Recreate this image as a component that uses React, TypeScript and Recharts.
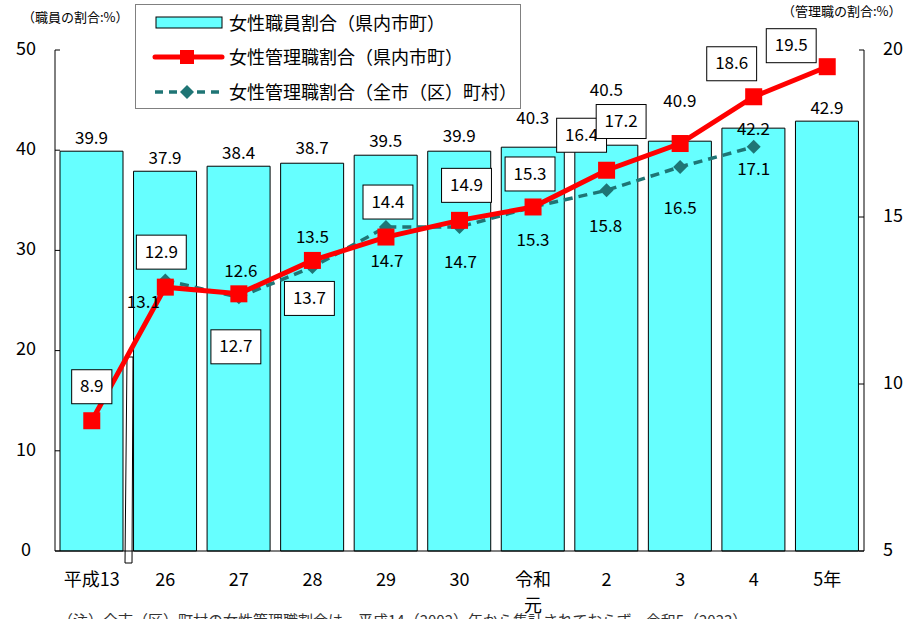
import React from "react";
import { ComposedChart, Bar, Line, XAxis, YAxis, LabelList, Customized } from "recharts";

const categories = ["平成13", "26", "27", "28", "29", "30", "令和\n元", "2", "3", "4", "5年"];
const staffRatio = [39.9, 37.9, 38.4, 38.7, 39.5, 39.9, 40.3, 40.5, 40.9, 42.2, 42.9];
const managerPref = [8.9, 12.9, 12.7, 13.7, 14.4, 14.9, 15.3, 16.4, 17.2, 18.6, 19.5];
const managerAll = [null, 13.1, 12.6, 13.5, 14.7, 14.7, 15.3, 15.8, 16.5, 17.1, null];
const leftTicks = [0, 10, 20, 30, 40, 50];
const rightTicks = [5, 10, 15, 20];

const FONT = '"Noto Sans CJK JP", "Noto Sans", sans-serif';
const TEAL = "#1f7575";

const data = categories.map((cat, i) => ({
  cat,
  staff: staffRatio[i],
  pref: managerPref[i],
  all: managerAll[i],
}));

// label nudges (px) so the numbers sit where the original puts them
const barLabelDy = [-12, -12, -12, -14, -13, -14, -28, -54, -39, 2, -12];
const prefBox = [
  [0, -34], [-4, -35], [-3, 53], [-3, 38], [2, -35], [7, -35],
  [-3, -33], [-25, -35], [-59, -22], [-22, -33], [-36, -21],
];
const allDy = [0, 23, -25, -29, 35, 36, 34, 37, 42, 24, 0];
const allDx = [0, -22, 2, 0, 1, 1, 0, -1, 0, 0, 0];

const numWidth = (s: string) =>
  s.split("").reduce((w, c) => w + (c === "." ? 4.8 : 9.7), 0);

const BarValue = (props: any) => {
  const { x, y, width, value, index } = props;
  return (
    <text x={x + width / 2} y={y + barLabelDy[index]} textAnchor="middle" dominantBaseline="middle"
      fontFamily={FONT} fontSize={17} fill="#000">
      {value}
    </text>
  );
};

const PrefValue = (props: any) => {
  const { x, y, value, index } = props;
  if (value == null) return null;
  const s = String(value);
  const w = numWidth(s) + 16;
  const h = 34;
  const cx = x + prefBox[index][0];
  const cy = y + prefBox[index][1];
  return (
    <g>
      <rect x={cx - w / 2} y={cy - h / 2} width={w} height={h} fill="#fff" stroke="#000" strokeWidth={1} />
      <text x={cx} y={cy + 1} textAnchor="middle" dominantBaseline="middle" fontFamily={FONT} fontSize={17} fill="#000">
        {s}
      </text>
    </g>
  );
};

const AllValue = (props: any) => {
  const { x, y, value, index } = props;
  if (value == null) return null;
  return (
    <text x={x + allDx[index]} y={y + allDy[index]} textAnchor="middle" dominantBaseline="middle"
      fontFamily={FONT} fontSize={17} fill="#000">
      {value}
    </text>
  );
};

const SquareDot = (props: any) => {
  const { cx, cy, index } = props;
  if (cx == null || cy == null) return <g key={index} />;
  return <rect key={index} x={cx - 8.5} y={cy - 8.5} width={17} height={17} fill="#ff0000" />;
};

const DiamondDot = (props: any) => {
  const { cx, cy, index } = props;
  if (cx == null || cy == null) return <g key={index} />;
  const r = 7;
  return <polygon key={index} points={`${cx},${cy - r} ${cx + r},${cy} ${cx},${cy + r} ${cx - r},${cy}`} fill={TEAL} />;
};

const LeftTick = (props: any) => {
  const { y, payload } = props;
  return (
    <text x={26} y={y} textAnchor="middle" dominantBaseline="middle" fontFamily={FONT} fontSize={18} fill="#000">
      {payload.value}
    </text>
  );
};

const RightTick = (props: any) => {
  const { y, payload } = props;
  return (
    <text x={883} y={y} textAnchor="start" dominantBaseline="middle" fontFamily={FONT} fontSize={18} fill="#000">
      {payload.value}
    </text>
  );
};

const XTick = (props: any) => {
  const { x, y, payload } = props;
  const lines = String(payload.value).split("\n");
  return (
    <text x={x} y={y} textAnchor="middle" fontFamily={FONT} fontSize={18} fill="#000">
      {lines.map((l, i) => (
        <tspan key={i} x={x} dy={i === 0 ? 27 : 26}>{l}</tspan>
      ))}
    </text>
  );
};

const BreakMark = () => (
  <polygon points="127,357 133,357 132,563 125,563" fill="#fff" stroke="#000" strokeWidth={1} />
);

const LegendBox = () => (
  <div style={{ position: "absolute", left: 135, top: 4, width: 384, height: 103, border: "1px solid #808080", background: "#fff" }}>
    <svg width={384} height={103} style={{ display: "block" }}>
      <rect x={20} y={12} width={66} height={11} fill="#66ffff" stroke="#000" strokeWidth={1} />
      <line x1={19} y1={52} x2={86} y2={52} stroke="#ff0000" strokeWidth={5} strokeLinecap="round" />
      <rect x={44} y={45} width={14} height={14} fill="#ff0000" />
      <line x1={19} y1={87} x2={86} y2={87} stroke={TEAL} strokeWidth={3.5} strokeDasharray="8 6" />
      <polygon points="51,80 58,87 51,94 44,87" fill={TEAL} />
      <g fontFamily={FONT} fontSize={18} fill="#000">
        <text x={93} y={25}>女性職員割合（県内市町）</text>
        <text x={93} y={59}>女性管理職割合（県内市町）</text>
        <text x={93} y={94}>女性管理職割合（全市（区）町村）</text>
      </g>
    </svg>
  </div>
);

export default function App() {
  return (
    <div style={{ position: "absolute", left: 0, top: 0, width: 923, height: 619, background: "#fff", overflow: "hidden" }}>
      <ComposedChart width={923} height={619} data={data} margin={{ top: 50, right: 0, bottom: 0, left: 0 }}>
        <XAxis dataKey="cat" tickLine={false} axisLine={{ stroke: "#000" }} height={68} tick={<XTick />} interval={0} />
        <YAxis yAxisId="left" orientation="left" width={55} domain={[0, 50]} ticks={leftTicks}
          axisLine={{ stroke: "#000" }} tickLine={{ stroke: "#000" }} tickSize={-5} tick={<LeftTick />} />
        <YAxis yAxisId="right" orientation="right" width={59} domain={[5, 20]} ticks={rightTicks}
          axisLine={{ stroke: "#000" }} tickLine={{ stroke: "#000" }} tickSize={-5} tick={<RightTick />} />
        <Bar yAxisId="left" dataKey="staff" barSize={63} fill="#66ffff" stroke="#000" strokeWidth={1} isAnimationActive={false}>
          <LabelList dataKey="staff" content={<BarValue />} />
        </Bar>
        <Customized component={<BreakMark />} />
        <Line yAxisId="right" dataKey="all" stroke={TEAL} strokeWidth={3.5} strokeDasharray="9 6"
          dot={<DiamondDot />} activeDot={false} isAnimationActive={false}>
          <LabelList dataKey="all" content={<AllValue />} />
        </Line>
        <Line yAxisId="right" dataKey="pref" stroke="#ff0000" strokeWidth={5}
          dot={<SquareDot />} activeDot={false} isAnimationActive={false}>
          <LabelList dataKey="pref" content={<PrefValue />} />
        </Line>
      </ComposedChart>
      <LegendBox />
      <div style={{ position: "absolute", left: 22, top: 7, fontFamily: FONT, fontSize: 13, color: "#000" }}>（職員の割合:%）</div>
      <div style={{ position: "absolute", left: 782, top: 1, fontFamily: FONT, fontSize: 13, color: "#000" }}>（管理職の割合:%）</div>
      <div style={{ position: "absolute", left: 58, top: 609, fontFamily: FONT, fontSize: 15, color: "#333", whiteSpace: "nowrap" }}>
        （注）全市（区）町村の女性管理職割合は、平成14（2002）年から集計されておらず、令和5（2023）
      </div>
    </div>
  );
}
